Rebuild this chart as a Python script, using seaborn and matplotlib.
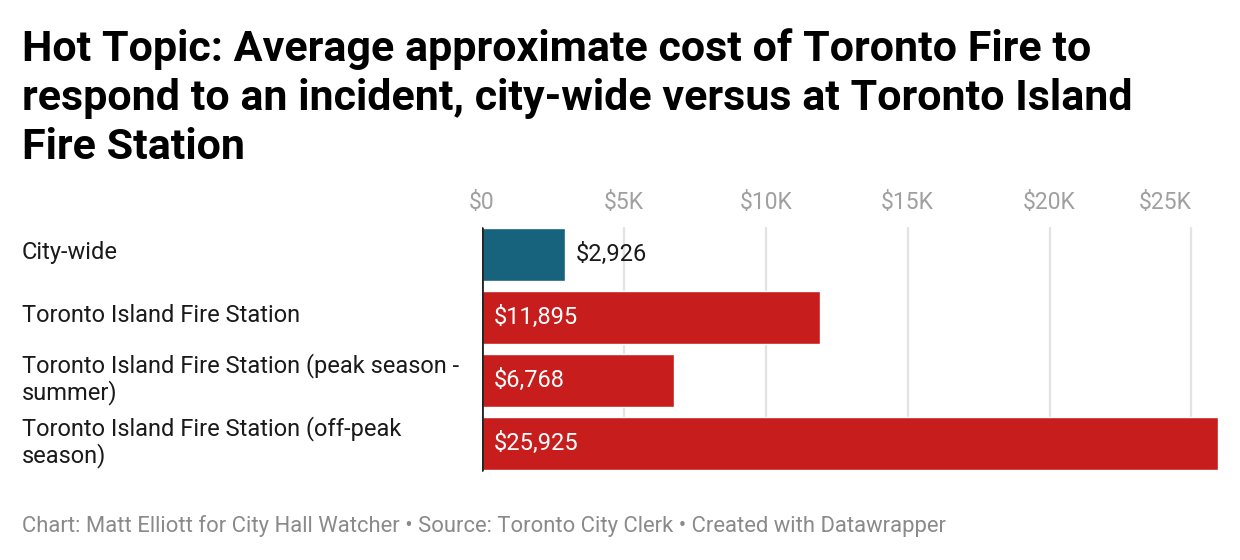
import matplotlib
matplotlib.use("Agg")
import matplotlib.pyplot as plt
import seaborn as sns
import pandas as pd

categories = [
    "City-wide",
    "Toronto Island Fire Station",
    "Toronto Island Fire Station (peak season -\nsummer)",
    "Toronto Island Fire Station (off-peak\nseason)",
]
values = [2926, 11895, 6768, 25925]
bar_colors = ["#17627c", "#c71e1d", "#c71e1d", "#c71e1d"]
tick_values = [0, 5000, 10000, 15000, 20000, 25000]
tick_labels = ["$0", "$5K", "$10K", "$15K", "$20K", "$25K"]
title = ("Hot Topic: Average approximate cost of Toronto Fire to\n"
         "respond to an incident, city-wide versus at Toronto Island\n"
         "Fire Station")
footer = "Chart: Matt Elliott for City Hall Watcher • Source: Toronto City Clerk • Created with Datawrapper"

sns.set_theme(style="white")
plt.rcParams["font.family"] = ["Roboto", "DejaVu Sans"]

df = pd.DataFrame({"category": categories, "value": values})

fig = plt.figure(figsize=(12.4, 5.6), dpi=100)
ax = fig.add_axes([0.3887, 0.151, 0.982 - 0.3887, 0.4517])

sns.barplot(data=df, x="value", y="category", hue="category",
            palette=bar_colors, legend=False, width=0.84, ax=ax,
            saturation=1, orient="h")

ax.set_xlim(0, 25925)
ax.set_ylim(3.5, -0.5)
ax.set_xticks(tick_values)
ax.set_xticklabels(tick_labels)
ax.xaxis.tick_top()
ax.tick_params(axis="x", length=0, pad=6, labelsize=16.5, labelcolor="#a0a0a0")
xt = ax.get_xticklabels()
xt[-1].set_horizontalalignment("right")
ax.set_yticks([])
ax.set_xlabel("")
ax.set_ylabel("")
for s in ax.spines.values():
    s.set_visible(False)

for xv in tick_values[1:]:
    ax.axvline(xv, ymin=0.02, ymax=0.98, color="#e3e3e3", lw=1.6, zorder=0)
ax.axvline(0, ymin=0.02, ymax=0.98, color="#222222", lw=2, zorder=3)

for i, v in enumerate(values):
    if v < 5000:
        ax.text(v + 380, i, f"${v:,}", va="center", ha="left",
                fontsize=17, color="#1a1a1a")
    else:
        ax.text(420, i, f"${v:,}", va="center", ha="left",
                fontsize=17, color="white")

# category labels in figure coords
for i, cat in enumerate(categories):
    y_disp = ax.transData.transform((0, i))[1]
    y_fig = y_disp / fig.bbox.height
    fig.text(22 / 1240, y_fig + 1.5 / 560, cat, va="center", ha="left",
             fontsize=17, color="#1a1a1a", linespacing=1.1)

fig.text(22 / 1240, 1 - 28 / 560, title, va="top", ha="left",
         fontsize=31, fontweight="bold", color="#000000", linespacing=1.25)
fig.text(22 / 1240, 1 - 526 / 560, footer, va="center", ha="left",
         fontsize=15.8, color="#8a8a8a")

fig.savefig("out.png", dpi=100)
